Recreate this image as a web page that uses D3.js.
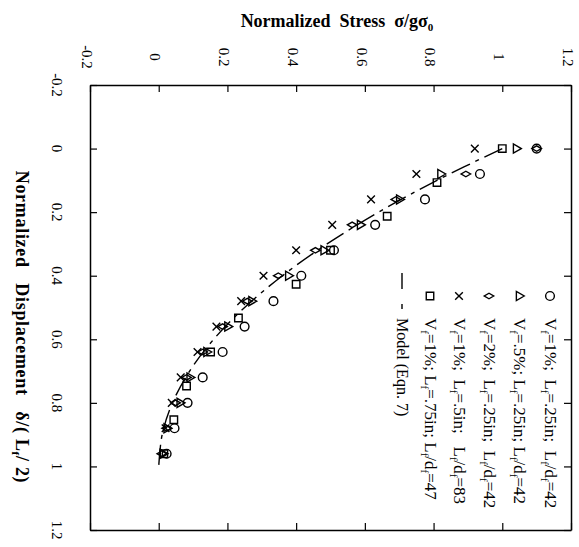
<!DOCTYPE html>
<html>
<head>
<meta charset="utf-8">
<script src="https://cdn.jsdelivr.net/npm/d3@7"></script>
<style>
  body { margin: 0; background: #fff; }
  svg text { font-family: "Liberation Serif", "Times New Roman", serif; fill: #000; }
</style>
</head>
<body>
<div id="chart"></div>
<script>
// axis ticks
const stressTicks = [-0.2, 0, 0.2, 0.4, 0.6, 0.8, 1, 1.2];
const stressLabels = ["-0.2", "0", "0.2", "0.4", "0.6", "0.8", "1", "1.2"];
const dispTicks = [-0.2, 0, 0.2, 0.4, 0.6, 0.8, 1, 1.2];
const dispLabels = ["-0.2", "0", "0.2", "0.4", "0.6", "0.8", "1", "1.2"];

// series, each point is [displacement, stress]
const circlePts = [[0, 1.10], [0.08, 0.935], [0.16, 0.775], [0.24, 0.63], [0.32, 0.51], [0.40, 0.415],
  [0.48, 0.334], [0.56, 0.25], [0.64, 0.186], [0.72, 0.128], [0.80, 0.084], [0.88, 0.046], [0.96, 0.023]];
const trianglePts = [[0, 1.04], [0.08, 0.82], [0.16, 0.70], [0.24, 0.586], [0.32, 0.48], [0.40, 0.377],
  [0.48, 0.27], [0.56, 0.20], [0.64, 0.139], [0.72, 0.09], [0.80, 0.061], [0.88, 0.023], [0.96, 0.012]];
const diamondPts = [[0, 1.10], [0.08, 0.894], [0.16, 0.69], [0.24, 0.563], [0.32, 0.456], [0.40, 0.348],
  [0.48, 0.258], [0.56, 0.186], [0.64, 0.128], [0.72, 0.081], [0.80, 0.049], [0.88, 0.023], [0.96, 0.009]];
const crossPts = [[0, 0.92], [0.08, 0.75], [0.16, 0.618], [0.24, 0.505], [0.32, 0.40], [0.40, 0.305],
  [0.48, 0.24], [0.56, 0.168], [0.64, 0.113], [0.72, 0.064], [0.80, 0.038], [0.88, 0.02]];
const squarePts = [[0, 1.00], [0.107, 0.81], [0.213, 0.665], [0.32, 0.50], [0.427, 0.40], [0.533, 0.232],
  [0.64, 0.151], [0.747, 0.081], [0.853, 0.044], [0.96, 0.015]];

// model curve (Eqn. 7)
const modelDisp = [0, 0.1, 0.2, 0.3, 0.4, 0.5, 0.6, 0.7, 0.8, 0.9, 1.0];
const modelStress = [1.0, 0.81, 0.64, 0.49, 0.36, 0.25, 0.16, 0.09, 0.04, 0.01, 0.0];

// legend labels, "_x" = subscript x
const legendLabels = [
  "V_f=1%;  L_f=.25in;  L_f/d_f=42",
  "V_f=.5%; L_f=.25in; L_f/d_f=42",
  "V_f=2%;  L_f=.25in;  L_f/d_f=42",
  "V_f=1%;  L_f=.5in;   L_f/d_f=83",
  "V_f=1%; L_f=.75in; L_f/d_f=47"
];

const width = 579, height = 547;
const svg = d3.select("#chart").append("svg")
  .attr("width", width)
  .attr("height", height);

// stress runs left -> right, displacement top -> bottom (rotated plot)
const x = d3.scaleLinear().domain([-0.2, 1.2]).range([90, 571]);
const y = d3.scaleLinear().domain([-0.2, 1.2]).range([85, 530]);

// frame with inward ticks on all sides
function styleAxis(g) {
  g.selectAll("text").remove();
  g.select(".domain").attr("stroke-width", 1.5);
  g.selectAll(".tick line").attr("stroke-width", 1.2);
}
svg.append("g").attr("transform", `translate(0,${y(-0.2)})`)
  .call(d3.axisTop(x).tickValues(stressTicks).tickSizeInner(-7).tickSizeOuter(0)).call(styleAxis);
svg.append("g").attr("transform", `translate(0,${y(1.2)})`)
  .call(d3.axisBottom(x).tickValues(stressTicks).tickSizeInner(-7).tickSizeOuter(0)).call(styleAxis);
svg.append("g").attr("transform", `translate(${x(-0.2)},0)`)
  .call(d3.axisLeft(y).tickValues(dispTicks).tickSizeInner(-7).tickSizeOuter(0)).call(styleAxis);
svg.append("g").attr("transform", `translate(${x(1.2)},0)`)
  .call(d3.axisRight(y).tickValues(dispTicks).tickSizeInner(-7).tickSizeOuter(0)).call(styleAxis);

// tick labels (rotated)
svg.append("g").selectAll("text")
  .data(stressTicks)
  .join("text")
    .attr("transform", d => `translate(${x(d) - 3},57) rotate(90)`)
    .attr("text-anchor", "middle")
    .attr("dy", "0.35em")
    .attr("font-size", 15)
    .text((d, i) => stressLabels[i]);
svg.append("g").selectAll("text")
  .data(dispTicks)
  .join("text")
    .attr("transform", d => `translate(57,${y(d)}) rotate(90)`)
    .attr("text-anchor", "middle")
    .attr("dy", "0.35em")
    .attr("font-size", 15)
    .text((d, i) => dispLabels[i]);

// text with subscripts
function richText(sel, str, base, sub) {
  const parts = str.split(/(_.)/).filter(p => p !== "");
  let shifted = false;
  parts.forEach(p => {
    const t = sel.append("tspan");
    if (p[0] === "_") {
      t.attr("font-size", sub).attr("dy", shifted ? 0 : 4).text(p[1]);
      shifted = true;
    } else {
      t.attr("font-size", base).attr("dy", shifted ? -4 : 0).text(p);
      shifted = false;
    }
  });
}

// axis titles
const topTitle = svg.append("text")
  .attr("x", 337).attr("y", 27)
  .attr("text-anchor", "middle")
  .attr("font-weight", "bold")
  .style("white-space", "pre");
richText(topTitle, "Normalized  Stress  σ/gσ_0", 18, 11);

const leftTitle = svg.append("text")
  .attr("transform", "translate(16,327) rotate(90)")
  .attr("text-anchor", "middle")
  .attr("font-weight", "bold")
  .attr("letter-spacing", 0.7)
  .attr("dy", "0.35em")
  .style("white-space", "pre");
richText(leftTitle, "Normalized   Displacement   δ/( L_f/ 2)", 18, 11);

// model line
const modelLine = d3.line()
  .x((d, i) => x(modelStress[i]))
  .y(d => y(d))
  .curve(d3.curveCatmullRom);
svg.append("path")
  .datum(modelDisp)
  .attr("fill", "none")
  .attr("stroke", "#000")
  .attr("stroke-width", 1.4)
  .attr("stroke-dasharray", "20,6,4,6")
  .attr("d", modelLine);

// markers
const series = [
  {pts: circlePts, type: d3.symbolCircle, size: 60, rot: 0},
  {pts: trianglePts, type: d3.symbolTriangle, size: 36, rot: 90},
  {pts: diamondPts, type: d3.symbolDiamond, size: 26, rot: 90},
  {pts: crossPts, type: d3.symbolX, size: 40, rot: 0},
  {pts: squarePts, type: d3.symbolSquare, size: 56, rot: 0}
];
series.forEach(s => {
  svg.append("g").selectAll("path")
    .data(s.pts)
    .join("path")
      .attr("d", d3.symbol().type(s.type).size(s.size))
      .attr("transform", d => `translate(${x(d[1])},${y(d[0])}) rotate(${s.rot})`)
      .attr("fill", "none")
      .attr("stroke", "#000")
      .attr("stroke-width", 1.4);
});

// legend (columns, read top to bottom)
const legendX = [550, 519, 489, 459, 430];
const legendSymY = 296;
series.forEach((s, i) => {
  svg.append("path")
    .attr("d", d3.symbol().type(s.type).size(s.size))
    .attr("transform", `translate(${legendX[i]},${legendSymY}) rotate(${s.rot})`)
    .attr("fill", "none")
    .attr("stroke", "#000")
    .attr("stroke-width", 1.4);
  const t = svg.append("text")
    .attr("transform", `translate(${legendX[i] - 5},318) rotate(90)`)
    .style("white-space", "pre");
  richText(t, legendLabels[i], 17, 11);
});
svg.append("line")
  .attr("x1", 402).attr("x2", 402)
  .attr("y1", 273).attr("y2", 311)
  .attr("stroke", "#000")
  .attr("stroke-width", 1.4)
  .attr("stroke-dasharray", "16,15,5,100");
svg.append("text")
  .attr("transform", "translate(397,318) rotate(90)")
  .attr("font-size", 16)
  .text("Model (Eqn. 7)");
</script>
</body>
</html>
